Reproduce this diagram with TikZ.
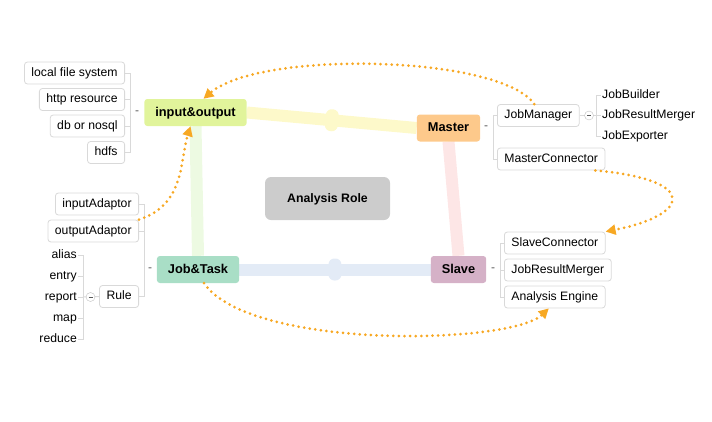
\documentclass[tikz,border=0pt]{standalone}
\usepackage{fontspec}
\setmainfont{Liberation Sans}
\usetikzlibrary{arrows.meta,backgrounds}
\definecolor{iocol}{HTML}{E1F49B}
\definecolor{mastercol}{HTML}{FDC98B}
\definecolor{jobcol}{HTML}{A9DEC6}
\definecolor{slavecol}{HTML}{D5B1C7}
\definecolor{rolecol}{HTML}{CCCCCC}
\definecolor{yband}{HTML}{FDF9CA}
\definecolor{gband}{HTML}{EDFAE2}
\definecolor{pband}{HTML}{FDE6E6}
\definecolor{bband}{HTML}{E3EBF6}
\definecolor{relcol}{HTML}{F7A823}
\definecolor{brkcol}{HTML}{D9D9D9}
\tikzset{
role/.style={rounded corners=3pt, minimum height=27pt, inner xsep=11pt, text height=9.5pt, text depth=2.5pt, font=\bfseries\fontsize{12.8}{15}\selectfont},
leaf/.style={draw=brkcol, line width=0.8pt, rounded corners=3pt, fill=white, minimum height=22pt, inner xsep=7pt, text height=9pt, text depth=2.5pt, font=\fontsize{12.2}{14}\selectfont},
word/.style={inner xsep=1pt, text height=9pt, text depth=2.5pt, font=\fontsize{12.2}{14}\selectfont},
minus/.style={text=black!65, inner sep=0pt, font=\fontsize{12}{12}\selectfont},
toggle/.style={circle, draw=black!25, fill=white, minimum size=9pt, inner sep=0pt,
  path picture={\draw[black!65, line width=0.9pt] ([xshift=-2pt]path picture bounding box.center) -- ([xshift=2pt]path picture bounding box.center);}},
brk/.style={draw=brkcol, line width=1pt},
band/.style={line width=12pt},
blob/.style={rounded corners=6pt, minimum width=13pt, minimum height=22pt, inner sep=0pt},
rel/.style={draw=relcol, line width=3pt, line cap=round, dash pattern=on 0pt off 5.6pt, -{Triangle[length=10pt,width=10pt]}}
}
\begin{document}
\begin{tikzpicture}[x=1pt,y=-1pt]
\useasboundingbox (0,0) rectangle (712,421);
\node[role, fill=iocol] (io) at (195.5,112.5) {input\&output};
\node[role, fill=mastercol] (master) at (448.5,128) {Master};
\node[role, fill=jobcol] (job) at (198,269.5) {Job\&Task};
\node[role, fill=slavecol] (slave) at (458.5,269.5) {Slave};
\node[role, fill=rolecol, minimum width=125pt, minimum height=43pt, rounded corners=6pt, font=\bfseries\fontsize{12.3}{14}\selectfont] (ar) at (327.5,198.5) {Analysis Role};
\begin{scope}[on background layer]
\draw[band, yband] (io.east) -- node[blob, fill=yband, sloped] {} (master.west);
\draw[band, gband] (io.south) -- (job.north);
\draw[band, pband] (master.south) -- (slave.north);
\draw[band, bband] (job.east) -- node[blob, fill=bband] {} (slave.west);
\end{scope}
\node[leaf, anchor=east] (lfs) at (125,73) {local file system};
\node[leaf, anchor=east] (http) at (125,99.5) {http resource};
\node[leaf, anchor=east] (db) at (125,126) {db or nosql};
\node[leaf, anchor=east] (hdfs) at (125,152.5) {hdfs};
\node[minus] (iom) at (137,112.5) {-};
\coordinate (iob) at (130,112.5);
\foreach \n in {lfs,http,db,hdfs} \draw[brk] (iob) |- (\n.east);
\node[leaf, anchor=east] (inad) at (139,204) {inputAdaptor};
\node[leaf, anchor=east] (outad) at (139,231) {outputAdaptor};
\node[leaf, anchor=east] (rule) at (139,296.5) {Rule};
\node[minus] (jobm) at (150,270) {-};
\coordinate (jobb) at (144,270);
\foreach \n in {inad,outad,rule} \draw[brk] (jobb) |- (\n.east);
\coordinate (ruleb) at (83,297);
\draw[brk] (ruleb) -- (rule.west);
\node[toggle] (rulet) at (90.5,297) {};
\foreach \n/\y in {alias/255, entry/276, report/297, map/318, reduce/339} {
  \node[word, anchor=east] (\n) at (78,\y) {\n};
  \draw[brk] (ruleb) |- (\n.east);
}
\node[minus] (masterm) at (486,128) {-};
\coordinate (masterb) at (493,128);
\node[leaf, anchor=west] (jm) at (497,115.5) {JobManager};
\node[leaf, anchor=west] (mc) at (497,159) {MasterConnector};
\foreach \n in {jm,mc} \draw[brk] (masterb) |- (\n.west);
\coordinate (jmb) at (596,115.5);
\draw[brk] (jm.east) -- (jmb);
\node[toggle] (jmt) at (589,115.5) {};
\foreach \n/\t/\y in {jb/JobBuilder/95, jrm/JobResultMerger/115.5, je/JobExporter/136} {
  \node[word, anchor=west] (\n) at (601,\y) {\t};
  \draw[brk] (jmb) |- (\n.west);
}
\node[minus] (slavem) at (493,270) {-};
\coordinate (slaveb) at (500,270);
\node[leaf, anchor=west] (sc) at (504,243) {SlaveConnector};
\node[leaf, anchor=west] (srm) at (504,270) {JobResultMerger};
\node[leaf, anchor=west] (ae) at (504,297) {Analysis Engine};
\foreach \n in {sc,srm,ae} \draw[brk] (slaveb) |- (\n.west);
\draw[rel] ([xshift=-4pt]jm.north) .. controls (500,55) and (260,50) .. ([xshift=8pt]io.north);
\draw[rel] ([xshift=-10pt]mc.south east) .. controls (700,180) and (690,215) .. (sc.north east);
\draw[rel] ([xshift=6pt]job.south) .. controls (250,350) and (510,345) .. ([xshift=-6pt]ae.south);
\draw[rel] (outad.north east) .. controls (185,205) and (180,160) .. ([xshift=-5pt]io.south);
\end{tikzpicture}
\end{document}
